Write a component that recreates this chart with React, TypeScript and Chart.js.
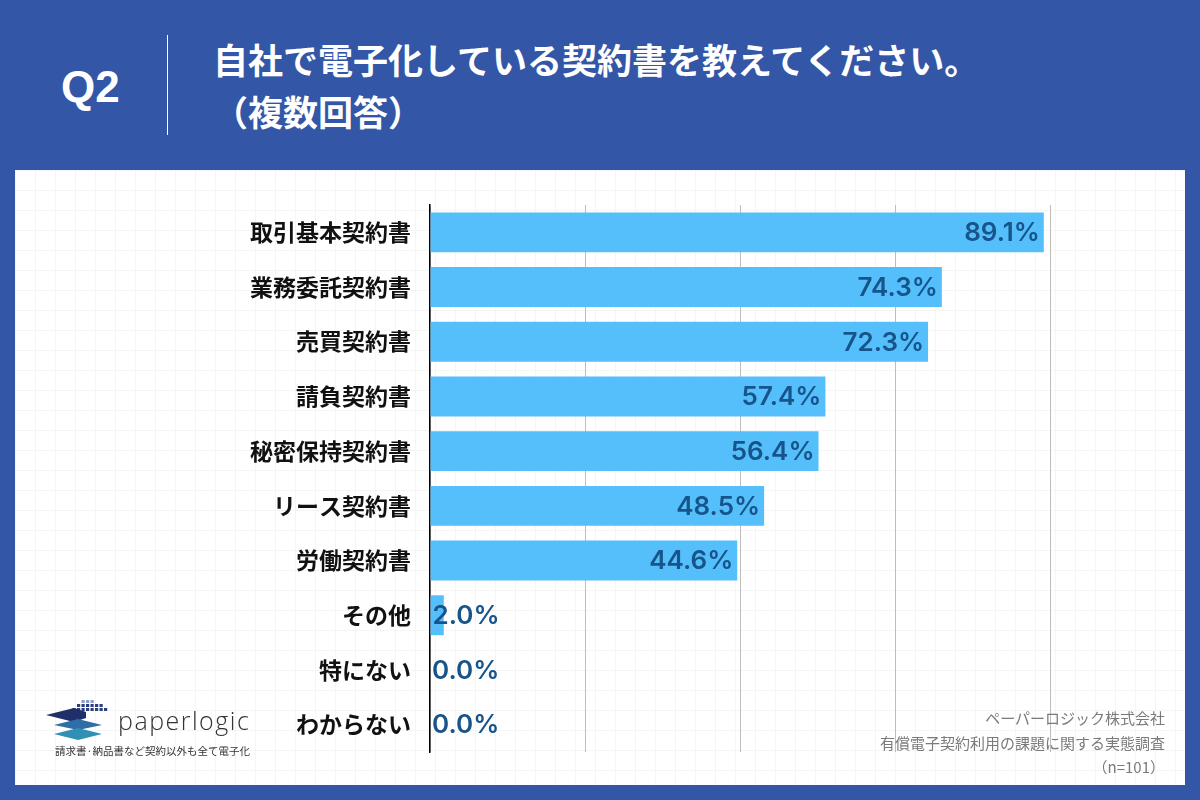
import React, { useEffect, useRef } from "react";
import { Chart, registerables } from "chart.js";

Chart.register(...registerables);

const categories = [
  "取引基本契約書",
  "業務委託契約書",
  "売買契約書",
  "請負契約書",
  "秘密保持契約書",
  "リース契約書",
  "労働契約書",
  "その他",
  "特にない",
  "わからない",
];
const values = [89.1, 74.3, 72.3, 57.4, 56.4, 48.5, 44.6, 2.0, 0.0, 0.0];
const axisMax = 90;
const axisStep = 22.5;

const titleLine1 = "自社で電子化している契約書を教えてください。";
const titleLine2 = "（複数回答）";
const sourceLines = ["ペーパーロジック株式会社", "有償電子契約利用の課題に関する実態調査", "（n=101）"];

const BLUE_BG = "#3356A6";
const BAR = "#55BFFB";
const LABEL = "#17548A";

const valueLabelPlugin = {
  id: "valueLabels",
  afterDatasetsDraw(chart: any) {
    const ctx = chart.ctx;
    const meta = chart.getDatasetMeta(0);
    ctx.save();
    ctx.font = "600 26px Inter, 'Liberation Sans', sans-serif";
    ctx.fillStyle = LABEL;
    ctx.textBaseline = "middle";
    meta.data.forEach((el: any, i: number) => {
      const v = chart.data.datasets[0].data[i] as number;
      const txt = v.toFixed(1) + "%";
      const w = ctx.measureText(txt).width;
      const barW = el.x - el.base;
      if (barW > w + 8) {
        ctx.textAlign = "right";
        ctx.fillText(txt, el.x - 4, el.y + 1);
      } else {
        ctx.textAlign = "left";
        ctx.fillText(txt, el.base + 2, el.y + 1);
      }
    });
    ctx.restore();
  },
};

function Logo() {
  const dots: JSX.Element[] = [];
  const rows = [
    [3, 4, 5],
    [2, 3, 4, 5, 6, 7],
    [1, 2, 3, 4, 5, 6, 7, 8],
  ];
  rows.forEach((r, ri) =>
    r.forEach((c) => {
      dots.push(
        <rect
          key={ri + "-" + c}
          x={22 + c * 4.5}
          y={ri * 4}
          width={3.2}
          height={3}
          fill={ri === 0 ? "#8a9ccc" : "#2b3f7e"}
        />
      );
    })
  );
  return (
    <svg width="66" height="44" viewBox="0 0 66 44">
      {dots}
      <polygon points="0,15 28,8 40,12 40,18 28,22" fill="#1f2f6a" />
      <polygon points="8,25 32,19 56,25 32,30" fill="#2e6ea6" />
      <polygon points="8,34 32,28 56,34 32,40" fill="#2f8fb4" />
    </svg>
  );
}

export default function App() {
  const ref = useRef<HTMLCanvasElement | null>(null);

  useEffect(() => {
    if (!ref.current) return;
    const chart = new Chart(ref.current, {
      type: "bar",
      data: {
        labels: categories,
        datasets: [
          {
            data: values,
            backgroundColor: BAR,
            borderWidth: 0,
            barPercentage: 0.73,
            categoryPercentage: 1,
          },
        ],
      },
      plugins: [valueLabelPlugin],
      options: {
        indexAxis: "y",
        responsive: false,
        animation: false,
        layout: { padding: { left: 0, right: 150, top: 205, bottom: 48 } },
        plugins: { legend: { display: false }, tooltip: { enabled: false } },
        scales: {
          x: {
            min: 0,
            max: axisMax,
            ticks: { display: false, stepSize: axisStep },
            grid: { color: "#bdbdbd", lineWidth: 1, drawTicks: false },
            border: { display: false },
          },
          y: {
            grid: { display: false },
            border: { display: true, color: "#000000", width: 1.5 },
            ticks: {
              color: "#111111",
              padding: 11,
              font: { family: "'Noto Sans CJK JP', sans-serif", size: 23, weight: "bold" },
            },
            afterFit: (scale: any) => {
              scale.width = 430;
            },
          },
        },
      } as any,
    });
    return () => chart.destroy();
  }, []);

  return (
    <div
      style={{
        position: "absolute",
        left: 0,
        top: 0,
        width: 1200,
        height: 800,
        background: BLUE_BG,
        overflow: "hidden",
        fontFamily: "'Noto Sans CJK JP', sans-serif",
      }}
    >
      <div
        style={{
          position: "absolute",
          left: 61,
          top: 62,
          color: "#fff",
          fontFamily: "'Liberation Sans', Arial, sans-serif",
          fontWeight: 700,
          fontSize: 44,
          lineHeight: "50px",
        }}
      >
        Q2
      </div>
      <div style={{ position: "absolute", left: 167, top: 35, width: 1, height: 100, background: "#ffffff" }} />
      <div
        style={{
          position: "absolute",
          left: 213,
          top: 33,
          color: "#fff",
          fontWeight: 700,
          fontSize: 35,
          lineHeight: "52px",
          whiteSpace: "nowrap",
        }}
      >
        <div>{titleLine1}</div>
        <div>{titleLine2}</div>
      </div>
      <div
        style={{
          position: "absolute",
          left: 15,
          top: 170,
          width: 1170,
          height: 615,
          backgroundColor: "#ffffff",
          backgroundImage:
            "linear-gradient(to right, #f5f5f5 1px, transparent 1px), linear-gradient(to bottom, #f5f5f5 1px, transparent 1px)",
          backgroundSize: "20px 20px",
        }}
      />
      <canvas ref={ref} width={1200} height={800} style={{ position: "absolute", left: 0, top: 0 }} />
      <div style={{ position: "absolute", left: 46, top: 700 }}>
        <Logo />
      </div>
      <div
        style={{
          position: "absolute",
          left: 118,
          top: 705,
          fontFamily: "'Open Sans', sans-serif",
          fontWeight: 300,
          fontSize: 25,
          letterSpacing: 1.5,
          color: "#333",
          lineHeight: "30px",
        }}
      >
        paperlogic
      </div>
      <div
        style={{
          position: "absolute",
          left: 55,
          top: 744,
          fontSize: 10.5,
          color: "#333",
          lineHeight: "14px",
          whiteSpace: "nowrap",
        }}
      >
        請求書·納品書など契約以外も全て電子化
      </div>
      <div
        style={{
          position: "absolute",
          right: 35,
          top: 706,
          textAlign: "right",
          fontSize: 15,
          color: "#7a7a7a",
          lineHeight: "24.5px",
          whiteSpace: "nowrap",
        }}
      >
        {sourceLines.map((l) => (
          <div key={l}>{l}</div>
        ))}
      </div>
    </div>
  );
}
